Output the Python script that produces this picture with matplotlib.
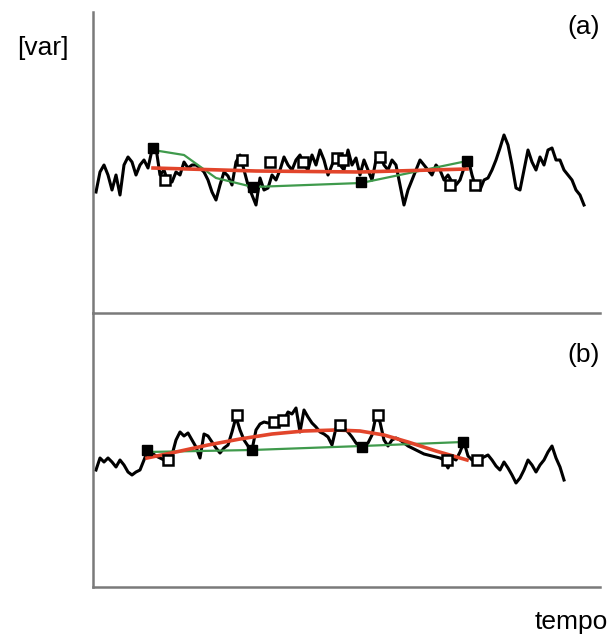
import matplotlib
matplotlib.use("Agg")
import matplotlib.pyplot as plt
import numpy as np

plt.rcParams['font.family'] = ['Liberation Sans', 'DejaVu Sans']

# series (a): one sample every time step
var_a = [121, 141, 148, 138, 123, 138, 118, 148, 156, 151, 138, 148, 153, 145, 163, 165,
         138, 143, 131, 131, 141, 138, 151, 145, 148, 148, 145, 141, 133, 121, 113, 128,
         141, 137, 128, 151, 158, 143, 128, 118, 108, 135, 123, 125, 138, 133, 143, 156,
         148, 143, 153, 158, 148, 143, 158, 148, 163, 153, 138, 148, 158, 148, 143, 163,
         148, 155, 138, 153, 143, 133, 153, 158, 148, 143, 153, 148, 128, 108, 123, 133,
         143, 153, 148, 143, 138, 148, 143, 133, 138, 131, 128, 133, 145, 155, 138, 125,
         123, 133, 135, 143, 153, 165, 178, 168, 148, 125, 123, 143, 163, 151, 143, 156,
         148, 163, 165, 153, 153, 143, 138, 133, 123, 118, 108]
filled_t_a = [14.25, 39.25, 66.25, 92.75]
filled_v_a = [165, 126, 131, 152]
open_t_a = [17.25, 36.5, 43.5, 51.75, 60.25, 61.75, 71, 88.5, 94.75]
open_v_a = [133, 153, 151, 151, 155, 153, 156, 128, 128]
green_t_a = [14.25, 22, 30, 39.25, 66.25, 92.75]
green_v_a = [163, 158, 135, 126, 130, 152]
red_t_a = [14.25, 40, 66, 92.75]
red_v_a = [145, 142, 141, 144]

# series (b)
var_b = [117, 129, 125, 129, 125, 120, 127, 122, 115, 112, 115, 117, 127, 137, 134, 131,
         129, 127, 125, 132, 147, 155, 151, 154, 147, 140, 129, 153, 151, 145, 139, 134,
         139, 142, 155, 170, 157, 147, 141, 137, 157, 163, 165, 164, 164, 165, 166, 167,
         175, 173, 179, 155, 177, 170, 164, 160, 155, 153, 150, 142, 159, 162, 159, 155,
         150, 144, 140, 141, 144, 152, 171, 165, 147, 141, 147, 149, 147, 144, 141, 139,
         137, 135, 133, 132, 131, 130, 129, 127, 119, 129, 127, 135, 145, 131, 127, 127,
         128, 130, 132, 127, 121, 117, 125, 119, 112, 104, 109, 117, 127, 122, 115, 122,
         127, 135, 141, 129, 120, 107]
filled_t_b = [12.75, 39, 66.5, 91.75]
filled_v_b = [137, 137, 140, 145]
open_t_b = [18, 35.25, 44.5, 46.75, 61, 70.5, 87.75, 95.25]
open_v_b = [127, 172, 165, 167, 162, 172, 127, 127]
green_t_b = [12.75, 39, 66.5, 91.75]
green_v_b = [135, 137, 141, 145]
red_t_b = [12.75, 20, 28, 36, 44, 52, 60, 66, 72, 78, 85, 92.75]
red_v_b = [129, 135, 142, 148, 153, 156, 157, 156, 152, 145, 136, 127]

W, H = 609, 635
fig = plt.figure(figsize=(W / 100, H / 100), dpi=100)
ax_a = fig.add_axes([93 / W, (H - 313) / H, 507 / W, 301 / H])
ax_b = fig.add_axes([93 / W, (H - 587) / H, 507 / W, 274 / H])

panels = [
    (ax_a, var_a, filled_t_a, filled_v_a, open_t_a, open_v_a, green_t_a, green_v_a, red_t_a, red_v_a, 301),
    (ax_b, var_b, filled_t_b, filled_v_b, open_t_b, open_v_b, green_t_b, green_v_b, red_t_b, red_v_b, 274),
]
for ax, v, ft, fv, ot, ov, gt, gv, rt, rv, top in panels:
    ax.plot(np.arange(len(v)), v, color='black', lw=2.2, zorder=2)
    ax.plot(gt, gv, color='#3f9a4c', lw=1.6, zorder=3)
    ax.plot(rt, rv, color='#e2452b', lw=2.6, zorder=4)
    ax.plot(ot, ov, ls='none', marker='s', ms=6.5, mfc='white', mec='black', mew=1.8, zorder=5)
    ax.plot(ft, fv, ls='none', marker='s', ms=6.5, mfc='black', mec='black', zorder=5)
    ax.set_xlim(-0.75, 126)
    ax.set_ylim(0, top)
    ax.set_xticks([])
    ax.set_yticks([])
    for s in ['top', 'right']:
        ax.spines[s].set_visible(False)
    for s in ['left', 'bottom']:
        ax.spines[s].set_color('#7a7a7a')
        ax.spines[s].set_linewidth(1.8)
    ax.patch.set_alpha(0)

fig.text(43 / W, 1 - 48 / H, '[var]', ha='center', va='center', fontsize=19)
fig.text(584 / W, 1 - 27 / H, '(a)', ha='center', va='center', fontsize=19)
fig.text(584 / W, 1 - 355 / H, '(b)', ha='center', va='center', fontsize=19)
fig.text(571 / W, 1 - 622 / H, 'tempo', ha='center', va='center', fontsize=19)

fig.savefig('out.png', dpi=100)
